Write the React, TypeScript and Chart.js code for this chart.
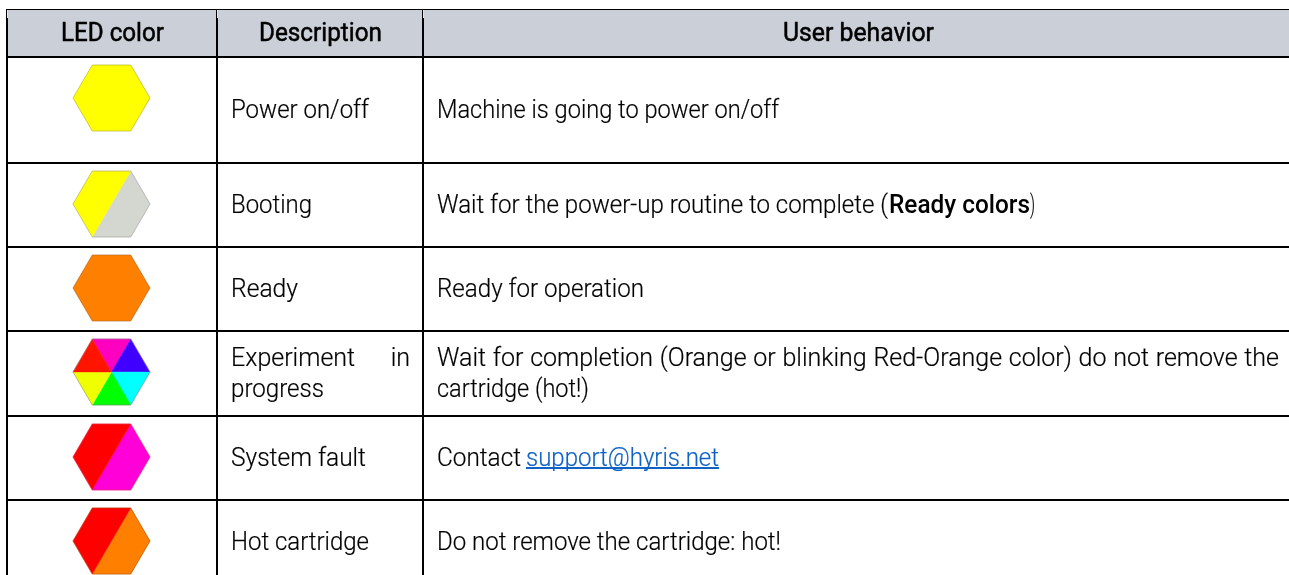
import React, { useEffect, useRef } from "react";
import { Chart, registerables } from "chart.js";

Chart.register(...registerables);

const W = 1289;
const H = 575;

// table structure (in the chart's own scale units)
const columnEdges = [7, 217, 423];
const rowEdges = [57, 163, 247, 331, 416, 500];
const tableTop = 18;
const topRule = 9;
const headerBand = [10, 56];
const headerFill = "#cacfd8";
const headerGlow = "#e4e7eb";

// LED column
const ledX = 112;
const ledY = [98, 204, 288, 372, 457, 541];
const ledWedges: string[][] = [
  ["#ffff00", "#ffff00", "#ffff00", "#ffff00", "#ffff00", "#ffff00"],
  ["#ffff00", "#d4d6d0", "#d4d6d0", "#d4d6d0", "#ffff00", "#ffff00"],
  ["#ff8000", "#ff8000", "#ff8000", "#ff8000", "#ff8000", "#ff8000"],
  ["#ff00c0", "#4000ff", "#00ffff", "#00ff00", "#f0ff00", "#ff1400"],
  ["#ff0000", "#ff00d8", "#ff00d8", "#ff00d8", "#ff0000", "#ff0000"],
  ["#ff0000", "#ff8000", "#ff8000", "#ff8000", "#ff0000", "#ff0000"],
];
const ledEdge = ["#a8a820", "#a0a098", "#a86018", "#888888", "#e03060", "#a85010"];

// texts
const headers = ["LED color", "Description", "User behavior"];
const headerX = [61, 259, 783];
const headerEnd = [164, 382, 934];
const headerBaseline = 41;
const descriptions = ["Power on/off", "Booting", "Ready", "Experiment in", "progress", "System fault", "Hot cartridge"];
const descX = 231;
const descEnd = [369, 312, 298, 410, 324, 366, 369];
const descBaseline = [118, 213, 297, 366, 397, 466, 550];
const behaviours = [
  "Machine is going to power on/off",
  "Wait for the power-up routine to complete (",
  "Ready for operation",
  "Wait for completion (Orange or blinking Red-Orange color) do not remove the",
  "cartridge (hot!)",
  "Contact",
  "Do not remove the cartridge: hot!",
];
const behaviourX = 437;
const behaviourEnd = [779, 888, 644, 1279, 589, 521, 781];
const behaviourBaseline = [118, 213, 297, 366, 397, 466, 550];
const boldText = "Ready colors";
const boldSpan = [889, 1030];
const closeParen = ")";
const closeParenSpan = [1030, 1035];
const linkText = "support@hyris.net";
const linkSpan = [526, 719];
const linkColor = "#0f62c6";

const FONT = "Roboto";
const SIZE = 25;

function makeHex(wedges: string[], edge: string): HTMLCanvasElement {
  const c = document.createElement("canvas");
  const rw = 38.5;
  const rh = 33;
  c.width = 82;
  c.height = 70;
  const g = c.getContext("2d")!;
  const cx = 40.5;
  const cy = 35;
  const verts = [
    [cx - rw / 2, cy - rh],
    [cx + rw / 2, cy - rh],
    [cx + rw, cy],
    [cx + rw / 2, cy + rh],
    [cx - rw / 2, cy + rh],
    [cx - rw, cy],
  ];
  const outline = () => {
    g.beginPath();
    verts.forEach((v, i) => (i ? g.lineTo(v[0], v[1]) : g.moveTo(v[0], v[1])));
    g.closePath();
  };
  const start = wedges.findIndex((col, i) => col !== wedges[(i + 5) % 6]);
  if (start < 0) {
    outline();
    g.fillStyle = wedges[0];
    g.fill();
  } else {
    let i = 0;
    while (i < 6) {
      const col = wedges[(start + i) % 6];
      let j = i;
      while (j + 1 < 6 && wedges[(start + j + 1) % 6] === col) j++;
      g.beginPath();
      g.moveTo(cx, cy);
      for (let k = i; k <= j + 1; k++) {
        const v = verts[(start + k) % 6];
        g.lineTo(v[0], v[1]);
      }
      g.closePath();
      g.fillStyle = col;
      g.strokeStyle = col;
      g.lineWidth = 0.4;
      g.fill();
      g.stroke();
      i = j + 1;
    }
  }
  outline();
  g.strokeStyle = edge;
  g.lineWidth = 0.6;
  g.stroke();
  return c;
}

function paint(g: CanvasRenderingContext2D, text: string, x: number, y: number, weight: number) {
  g.fillText(text, x, y);
  if (weight > 0) {
    g.lineWidth = weight;
    g.strokeStyle = g.fillStyle as string;
    g.strokeText(text, x, y);
  }
}

function fit(g: CanvasRenderingContext2D, text: string, x0: number, x1: number, y: number, weight = 0.2) {
  const m = g.measureText(text).width;
  g.save();
  g.translate(x0, y);
  g.scale((x1 - x0) / m, 1);
  paint(g, text, 0, 0, weight);
  g.restore();
}

function justify(g: CanvasRenderingContext2D, text: string, x0: number, x1: number, y: number) {
  const words = text.split(" ");
  const sum = words.reduce((s, w) => s + g.measureText(w).width, 0);
  const gap = (x1 - x0 - sum) / (words.length - 1);
  let x = x0;
  words.forEach((w) => {
    paint(g, w, x, y, 0.2);
    x += g.measureText(w).width + gap;
  });
}

const tablePlugin = {
  id: "tableText",
  beforeDraw(chart: any) {
    const { ctx, scales } = chart;
    const px = (v: number) => scales.x.getPixelForValue(v);
    const py = (v: number) => scales.y.getPixelForValue(v);
    const top = py(headerBand[0]);
    const bot = py(headerBand[1]);
    const left = px(columnEdges[0]);
    ctx.save();
    ctx.fillStyle = "#ffffff";
    ctx.fillRect(0, 0, W, H);
    ctx.fillStyle = headerFill;
    ctx.fillRect(left, top, W - left, bot - top);
    ctx.fillStyle = "#000000";
    ctx.fillRect(left - 1, py(topRule), W - left + 1, 1);
    columnEdges.forEach((e) => {
      ctx.fillStyle = "#000000";
      ctx.fillRect(px(e) - 1, py(topRule), 1, py(tableTop) - py(topRule));
      ctx.fillStyle = headerGlow;
      ctx.fillRect(px(e), top, 1, py(tableTop) - top);
    });
    ctx.restore();
  },
  afterDraw(chart: any) {
    const { ctx, scales } = chart;
    const px = (v: number) => scales.x.getPixelForValue(v);
    const py = (v: number) => scales.y.getPixelForValue(v);
    ctx.save();
    ctx.textBaseline = "alphabetic";
    ctx.textAlign = "left";
    ctx.lineJoin = "round";
    ctx.fillStyle = "#000000";
    ctx.font = `400 ${SIZE}px ${FONT}`;
    headers.forEach((t, i) => fit(ctx, t, px(headerX[i]), px(headerEnd[i]), py(headerBaseline), 0.5));
    ctx.font = `300 ${SIZE}px ${FONT}`;
    descriptions.forEach((t, i) => {
      if (t === "Experiment in") justify(ctx, t, px(descX), px(descEnd[i]), py(descBaseline[i]));
      else fit(ctx, t, px(descX), px(descEnd[i]), py(descBaseline[i]));
    });
    behaviours.forEach((t, i) => {
      if (i === 3) justify(ctx, t, px(behaviourX), px(behaviourEnd[i]), py(behaviourBaseline[i]));
      else fit(ctx, t, px(behaviourX), px(behaviourEnd[i]), py(behaviourBaseline[i]));
    });
    fit(ctx, closeParen, px(closeParenSpan[0]), px(closeParenSpan[1]), py(behaviourBaseline[1]));
    ctx.font = `500 ${SIZE}px ${FONT}`;
    fit(ctx, boldText, px(boldSpan[0]), px(boldSpan[1]), py(behaviourBaseline[1]), 0);
    ctx.font = `300 ${SIZE}px ${FONT}`;
    ctx.fillStyle = linkColor;
    fit(ctx, linkText, px(linkSpan[0]), px(linkSpan[1]), py(behaviourBaseline[5]));
    ctx.fillRect(px(linkSpan[0]), py(behaviourBaseline[5]) + 1, px(linkSpan[1]) - px(linkSpan[0]), 2);
    ctx.restore();
  },
};

export default function App() {
  const ref = useRef<HTMLCanvasElement>(null);
  useEffect(() => {
    document.body.style.margin = "0";
    document.body.style.background = "#ffffff";
    const hexes = ledWedges.map((w, i) => makeHex(w, ledEdge[i]));
    const chart = new Chart(ref.current!, {
      type: "scatter",
      data: {
        datasets: [
          {
            label: headers[0],
            data: ledY.map((y) => ({ x: ledX, y })),
            pointStyle: hexes as any,
            pointRadius: 38,
            pointHoverRadius: 38,
            clip: false,
          },
        ],
      },
      options: {
        animation: false,
        responsive: false,
        events: [],
        layout: { autoPadding: false, padding: { left: columnEdges[0], top: tableTop, right: 0, bottom: 0 } },
        plugins: { legend: { display: false }, tooltip: { enabled: false }, title: { display: false } },
        scales: {
          x: {
            type: "linear",
            min: columnEdges[0],
            max: W,
            afterBuildTicks: (s: any) => {
              s.ticks = columnEdges.map((value) => ({ value }));
            },
            ticks: { display: false },
            border: { display: false },
            grid: { drawTicks: false, color: "#000000", lineWidth: 2 },
          },
          y: {
            type: "linear",
            reverse: true,
            min: tableTop,
            max: H,
            afterBuildTicks: (s: any) => {
              s.ticks = rowEdges.map((value) => ({ value }));
            },
            ticks: { display: false },
            border: { display: false },
            grid: { drawTicks: false, color: "#000000", lineWidth: 2 },
          },
        },
      },
      plugins: [tablePlugin],
    } as any);
    return () => chart.destroy();
  }, []);
  return <canvas ref={ref} width={W} height={H} style={{ display: "block", width: W, height: H }} />;
}
